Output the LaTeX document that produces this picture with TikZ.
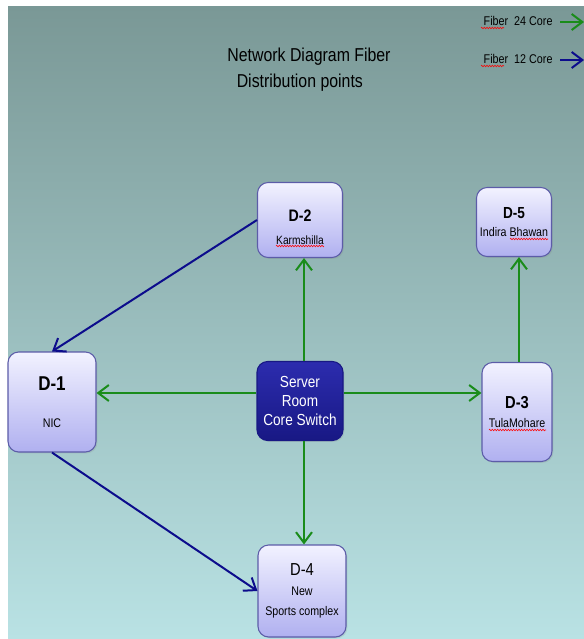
\documentclass[tikz,border=0pt]{standalone}
\usepackage{fontspec}
\setmainfont[FakeStretch=0.85]{Liberation Sans}
\usetikzlibrary{arrows.meta,shadows,decorations.pathmorphing}

\definecolor{bgtop}{HTML}{7A9896}
\definecolor{bgbot}{HTML}{B9E2E4}
\definecolor{boxtop}{HTML}{F2F2FF}
\definecolor{boxbot}{HTML}{B0B0F0}
\definecolor{boxline}{HTML}{5C5CA8}
\definecolor{coretop}{HTML}{2C2CAE}
\definecolor{corebot}{HTML}{181884}
\definecolor{fibgreen}{HTML}{1A8C1A}
\definecolor{fibblue}{HTML}{0C0C8C}

\newcommand{\fs}[1]{\fontsize{#1}{1.2\dimexpr#1pt\relax}\selectfont}

\begin{document}
\begin{tikzpicture}[x=0.75pt,y=-0.75pt,
  dp/.style={draw=boxline, line width=0.8pt, rounded corners=8pt,
    top color=boxtop, bottom color=boxbot, align=center, inner sep=0pt,
    drop shadow={opacity=0.2,shadow xshift=1pt,shadow yshift=-1pt}},
  core/.style={dp, draw=corebot, top color=coretop, bottom color=corebot, text=white},
  fib24/.style={draw=fibgreen, line width=1.5pt, -{Straight Barb[length=8pt,width=12pt]}},
  fib12/.style={draw=fibblue, line width=1.5pt, -{Straight Barb[length=8pt,width=12pt]}},
  spell/.style={draw=red, line width=0.4pt, decorate,
    decoration={zigzag, amplitude=0.6pt, segment length=2pt}}]
  % background
  \fill[white] (0,0) rectangle (584,639);
  \shade[top color=bgtop, bottom color=bgbot] (8,6) rectangle (584,639);
  \useasboundingbox (0,0) rectangle (584,639);

  % title and legend
  \node[align=left, font=\fontsize{14}{19.5}\selectfont] (title) at (309,70)
    {Network Diagram Fiber\\\hspace*{0.5em}Distribution points};
  \node[font=\fs{9.5}, anchor=west] (leg24) at (479,21) {Fiber\ \ 24 Core};
  \node[font=\fs{9.5}, anchor=west] (leg12) at (479,59) {Fiber\ \ 12 Core};
  \coordinate (l24a) at (560,22);
  \coordinate (l24b) at (584,22);
  \coordinate (l12a) at (560,60);
  \coordinate (l12b) at (584,60);

  % distribution points
  \node[dp, minimum width=63.75pt, minimum height=56.25pt] (d2) at (300,220)
    {\mbox{}\\[8pt]\fs{12.5}\bfseries D-2\\[5pt]\fs{9}Karmshilla};
  \node[dp, minimum width=56.25pt, minimum height=51.75pt] (d5) at (514,222)
    {\fs{12}\bfseries D-5\\[2pt]\fs{9.4}Indira Bhawan};
  \node[dp, minimum width=66pt, minimum height=75pt] (d1) at (52,402)
    {\fs{15}\bfseries D-1\\[16pt]\fs{9.4}NIC};
  \node[core, minimum width=64.5pt, minimum height=59.25pt] (core) at (300,401)
    {\fs{12}Server\\[2pt]\fs{12}Room\\[2pt]\fs{12}Core Switch};
  \node[dp, minimum width=52.5pt, minimum height=74.25pt] (d3) at (517,412)
    {\fs{13}\bfseries D-3\\[2pt]\fs{9.4}TulaMohare};
  \node[dp, minimum width=66pt, minimum height=69pt] (d4) at (302,591)
    {\fs{13}D-4\\[3pt]\fs{9.4}New\\[3pt]\fs{9.4}Sports complex};

  % spelling marks
  \draw[spell] (481,28) -- (504,28);
  \draw[spell] (481,66) -- (504,66);
  \draw[spell] (276,246) -- (324,246);
  \draw[spell] (510,239) -- (548,239);
  \draw[spell] (489,430) -- (546,430);

  % fiber links
  \draw[fib24] (l24a) -- (l24b);
  \draw[fib12] (l12a) -- (l12b);
  \draw[fib24] (core.north -| 304,0) -- (d2.south -| 304,0);
  \draw[fib24] (core.south -| 304,0) -- (d4.north -| 304,0);
  \draw[fib24] (core.west |- 0,393) -- (d1.east |- 0,393);
  \draw[fib24] (core.east |- 0,393) -- (d3.west |- 0,393);
  \draw[fib24] (d3.north -| 519,0) -- (d5.south -| 519,0);
  \draw[fib12] (d2.west) -- (d1.north);
  \draw[fib12] (d1.south) -- (d4.west);
\end{tikzpicture}
\end{document}
